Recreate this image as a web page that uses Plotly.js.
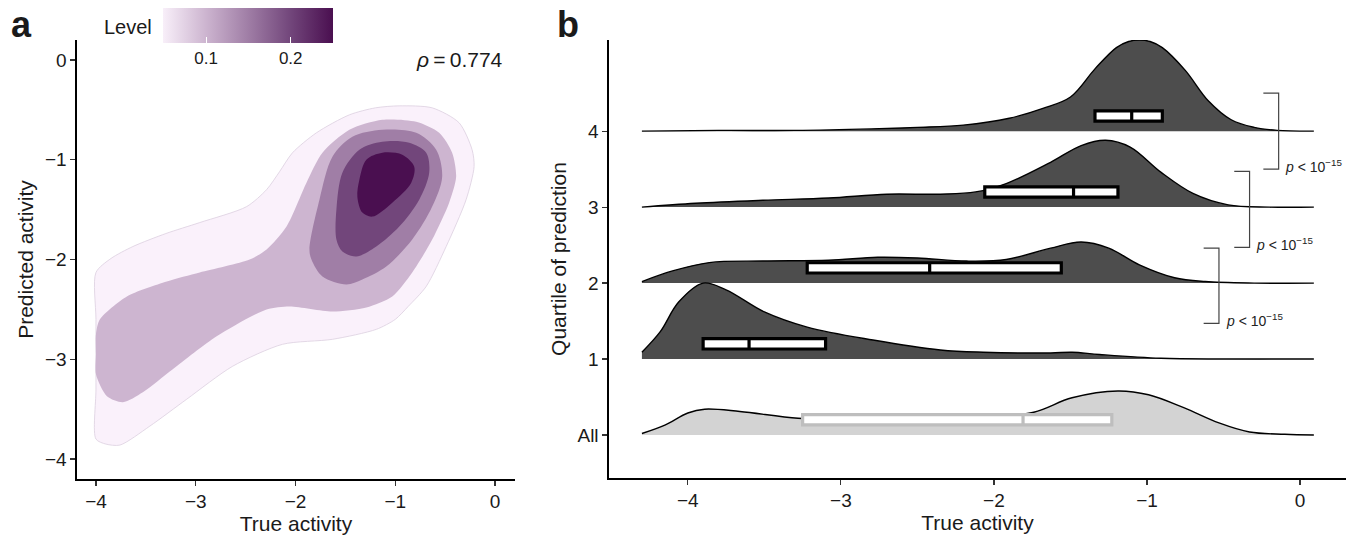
<!DOCTYPE html>
<html>
<head>
<meta charset="utf-8">
<script src="https://cdn.plot.ly/plotly-3.0.1.min.js"></script>
<style>html,body{margin:0;padding:0;background:#fff;}#chart{width:1356px;height:541px;}</style>
</head>
<body>
<div id="chart"></div>
<script>
// ---------- Panel a: 2D density contour polygons (data units) ----------
const levelValues = [0.05, 0.10, 0.15, 0.20, 0.25];
const contourL1x = [-4.0, -3.85, -3.63, -3.3, -2.96, -2.49, -2.29, -2.16, -2.03, -1.79, -1.46, -1.2, -0.96, -0.63, -0.36, -0.23, -0.21, -0.29, -0.49, -0.69, -0.87, -1.0, -1.19, -1.63, -2.13, -2.63, -3.09, -3.46, -3.76, -3.9, -4.0, -4.0, -4.0, -4.0];
const contourL1y = [-2.13, -1.99, -1.87, -1.74, -1.63, -1.47, -1.30, -1.12, -0.93, -0.73, -0.55, -0.48, -0.46, -0.48, -0.63, -0.90, -1.07, -1.40, -1.87, -2.27, -2.47, -2.60, -2.70, -2.80, -2.85, -3.07, -3.40, -3.67, -3.86, -3.85, -3.80, -3.3, -2.6, -2.13];
const contourL2x = [-4.0, -3.96, -3.69, -3.29, -2.96, -2.46, -2.29, -2.09, -1.89, -1.73, -1.46, -1.13, -0.79, -0.56, -0.43, -0.39, -0.46, -0.63, -0.83, -1.03, -1.29, -1.63, -2.06, -2.29, -2.79, -3.23, -3.53, -3.73, -3.89, -4.0, -4.0, -4.0];
const contourL2y = [-2.75, -2.60, -2.37, -2.22, -2.13, -2.0, -1.90, -1.67, -1.23, -0.93, -0.70, -0.60, -0.62, -0.73, -0.93, -1.17, -1.43, -1.80, -2.13, -2.37, -2.48, -2.52, -2.47, -2.50, -2.77, -3.10, -3.33, -3.43, -3.37, -3.15, -2.95, -2.75];
const contourL3x = [-1.86, -1.76, -1.63, -1.43, -1.13, -0.79, -0.59, -0.53, -0.63, -0.83, -1.09, -1.33, -1.49, -1.73, -1.84, -1.86];
const contourL3y = [-1.90, -1.40, -0.97, -0.77, -0.70, -0.73, -0.90, -1.17, -1.47, -1.80, -2.07, -2.20, -2.25, -2.17, -2.00, -1.90];
const contourL4x = [-1.59, -1.59, -1.53, -1.36, -1.13, -0.86, -0.69, -0.66, -0.76, -0.96, -1.19, -1.39, -1.53, -1.59];
const contourL4y = [-1.80, -1.50, -1.13, -0.90, -0.82, -0.83, -0.93, -1.13, -1.40, -1.67, -1.87, -1.97, -1.92, -1.80];
const contourL5x = [-1.36, -1.29, -1.13, -0.93, -0.81, -0.84, -1.03, -1.23, -1.33, -1.38, -1.36];
const contourL5y = [-1.20, -1.00, -0.93, -0.95, -1.07, -1.23, -1.43, -1.57, -1.53, -1.37, -1.20];
const rhoValue = "0.774";

// ---------- Panel b: ridgeline densities ----------
const groupLabels = ["All", "1", "2", "3", "4"];
const groupPos = [0, 1, 2, 3, 4];
const q4x = [-4.3, -3.8, -3.3, -2.8, -2.5, -2.2, -1.9, -1.68, -1.5, -1.34, -1.2, -1.12, -1.05, -0.98, -0.9, -0.75, -0.6, -0.45, -0.3, -0.15, 0.09];
const q4h = [0.0, 0.01, 0.01, 0.03, 0.05, 0.08, 0.17, 0.30, 0.45, 0.82, 1.10, 1.18, 1.2, 1.18, 1.10, 0.80, 0.40, 0.15, 0.05, 0.01, 0.0];
const q3x = [-4.3, -3.95, -3.51, -3.08, -2.70, -2.35, -2.12, -1.92, -1.63, -1.43, -1.27, -1.11, -0.91, -0.70, -0.47, -0.2, 0.09];
const q3h = [0.0, 0.05, 0.09, 0.12, 0.17, 0.17, 0.20, 0.31, 0.59, 0.81, 0.88, 0.79, 0.46, 0.18, 0.03, 0.0, 0.0];
const q2x = [-4.3, -4.10, -3.86, -3.51, -3.08, -2.76, -2.50, -2.18, -1.92, -1.63, -1.43, -1.25, -1.05, -0.82, -0.62, -0.3, 0.09];
const q2h = [0.02, 0.16, 0.27, 0.29, 0.30, 0.34, 0.33, 0.29, 0.31, 0.46, 0.54, 0.46, 0.24, 0.07, 0.02, 0.0, 0.0];
const q1x = [-4.3, -4.18, -4.06, -3.90, -3.75, -3.50, -3.22, -2.79, -2.35, -2.07, -1.63, -1.49, -1.31, -0.91, -0.5, 0.09];
const q1h = [0.09, 0.36, 0.75, 1.0, 0.91, 0.62, 0.42, 0.25, 0.12, 0.09, 0.08, 0.09, 0.06, 0.01, 0.0, 0.0];
const allx = [-4.3, -4.15, -4.0, -3.89, -3.66, -3.28, -2.9, -2.5, -2.1, -1.74, -1.49, -1.19, -0.99, -0.76, -0.53, -0.33, -0.1, 0.09];
const allh = [0.02, 0.13, 0.29, 0.34, 0.31, 0.22, 0.19, 0.18, 0.21, 0.30, 0.49, 0.58, 0.53, 0.36, 0.16, 0.04, 0.01, 0.0];

// box summaries (q1, median, q3) per group, order: All, 1, 2, 3, 4
const boxQ1 = [-3.25, -3.90, -3.22, -2.06, -1.34];
const boxMed = [-1.81, -3.60, -2.42, -1.48, -1.10];
const boxQ3 = [-1.23, -3.10, -1.56, -1.19, -0.90];
const boxOffset = 0.2;

// significance brackets between adjacent quartiles
const bracketTop = [4.5, 3.47, 2.46];
const bracketBottom = [3.5, 2.47, 1.47];
const bracketX = [-0.14, -0.33, -0.53];
const bracketText = "<i>p</i> &lt; 10<sup>\u221215</sup>";

// ---------- styles ----------
const FONT = "Liberation Sans, Arial, Helvetica, sans-serif";
const levelScale = [[0, '#F8EFF9'], [0.25, '#CDB5D0'], [0.5, '#A07EA6'], [0.75, '#72467B'], [1, '#4A0F50']];
const levelFill = ['#FAF1FB', '#CDB5D0', '#A07EA6', '#72467B', '#4A0F50'];
const xRangeB = [-4.515, 0.3];
const yRangeB = [-0.566, 5.2];

const traces = [];
const contours = [[contourL1x, contourL1y], [contourL2x, contourL2y], [contourL3x, contourL3y], [contourL4x, contourL4y], [contourL5x, contourL5y]];
contours.forEach((c, i) => {
  traces.push({
    type: 'scatter', mode: 'lines', x: c[0], y: c[1], xaxis: 'x', yaxis: 'y',
    fill: 'toself', fillcolor: levelFill[i],
    line: {shape: 'spline', smoothing: i < 2 ? 0.75 : 0.9, width: i === 0 ? 0.8 : 0, color: i === 0 ? '#DCCFE0' : levelFill[i]},
    hoverinfo: 'skip', showlegend: false
  });
});
// colorbar carrier (points outside the visible range)
traces.push({
  type: 'scatter', mode: 'markers', x: levelValues.map(() => -10), y: levelValues.map(() => -10),
  xaxis: 'x', yaxis: 'y', hoverinfo: 'skip', showlegend: false,
  marker: {
    size: 2, color: levelValues, colorscale: levelScale, cmin: 0.049, cmax: 0.25, showscale: true,
    colorbar: {
      orientation: 'h', x: 248 / 1356, xanchor: 'center', y: 1 - 8 / 541, yanchor: 'top',
      len: 170, lenmode: 'pixels', thickness: 35, thicknessmode: 'pixels',
      xpad: 0, ypad: 0, outlinewidth: 0,
      tickvals: [0.1, 0.2], ticktext: ['0.1', '0.2'], ticks: 'inside', ticklen: 6, tickcolor: '#ffffff', tickwidth: 1.2,
      tickfont: {family: FONT, size: 17, color: '#1a1a1a'}, title: {text: ''}
    }
  }
});

// ridges: top to bottom so lower ridges overlay upper ones
const ridges = [[q4x, q4h, 4], [q3x, q3h, 3], [q2x, q2h, 2], [q1x, q1h, 1], [allx, allh, 0]];
ridges.forEach(r => {
  const base = r[2];
  const fillc = base === 0 ? '#D3D3D3' : '#4D4D4D';
  traces.push({type: 'scatter', mode: 'lines', x: r[0], y: r[0].map(() => base), xaxis: 'x2', yaxis: 'y2',
    line: {width: 0, color: fillc}, hoverinfo: 'skip', showlegend: false});
  traces.push({type: 'scatter', mode: 'lines', x: r[0], y: r[1].map(h => base + h), xaxis: 'x2', yaxis: 'y2',
    fill: 'tonexty', fillcolor: fillc, line: {shape: 'spline', smoothing: 1, width: 1.4, color: '#000'},
    hoverinfo: 'skip', showlegend: false});
});

// brackets
bracketX.forEach((bx, i) => {
  traces.push({type: 'scatter', mode: 'lines', x: [bx - 0.1, bx, bx, bx - 0.1], y: [bracketTop[i], bracketTop[i], bracketBottom[i], bracketBottom[i]],
    xaxis: 'x2', yaxis: 'y2', line: {color: '#444', width: 1.2}, hoverinfo: 'skip', showlegend: false});
});

// boxes on an overlaid subplot so they sit above the ridges
groupPos.forEach((g, i) => {
  traces.push({
    type: 'box', orientation: 'h', y: [g + boxOffset], q1: [boxQ1[i]], median: [boxMed[i]], q3: [boxQ3[i]],
    lowerfence: [boxQ1[i]], upperfence: [boxQ3[i]], boxpoints: false, width: 0.135, whiskerwidth: 0,
    fillcolor: '#ffffff', line: {color: g === 0 ? '#BEBEBE' : '#000000', width: 3.2},
    xaxis: 'x3', yaxis: 'y3', hoverinfo: 'skip', showlegend: false
  });
});

const annotations = [
  {text: '<b>a</b>', x: 9 / 1356, y: 1 - 24 / 541, xref: 'paper', yref: 'paper', xanchor: 'left', yanchor: 'middle', showarrow: false, font: {family: FONT, size: 36, color: '#1a1a1a'}},
  {text: '<b>b</b>', x: 555 / 1356, y: 1 - 24 / 541, xref: 'paper', yref: 'paper', xanchor: 'left', yanchor: 'middle', showarrow: false, font: {family: FONT, size: 36, color: '#1a1a1a'}},
  {text: 'Level', x: 154 / 1356, y: 1 - 27 / 541, xref: 'paper', yref: 'paper', xanchor: 'right', yanchor: 'middle', showarrow: false, font: {family: FONT, size: 20, color: '#1a1a1a'}},
  {text: '<i>\u03C1</i>\u2009=\u2009' + rhoValue, x: 0.1, y: 0, xref: 'x', yref: 'y', xanchor: 'right', yanchor: 'middle', showarrow: false, font: {family: FONT, size: 21, color: '#1a1a1a'}}
];
bracketX.forEach((bx, i) => {
  annotations.push({text: bracketText, x: bx + 0.03, y: bracketBottom[i] + 0.04, xref: 'x2', yref: 'y2', xanchor: 'left', yanchor: 'middle',
    showarrow: false, font: {family: FONT, size: 14, color: '#222'}});
});

const axisCommon = {
  showgrid: false, zeroline: false, showline: true, linecolor: '#000', linewidth: 1.6,
  ticks: 'outside', ticklen: 5, tickwidth: 1.2, tickcolor: '#333',
  tickfont: {family: FONT, size: 19, color: '#1a1a1a'}, fixedrange: true
};
const titleFont = {family: FONT, size: 21, color: '#1a1a1a'};

const layout = {
  width: 1356, height: 541, margin: {l: 0, r: 0, t: 0, b: 0},
  paper_bgcolor: '#fff', plot_bgcolor: '#fff', showlegend: false,
  font: {family: FONT, color: '#1a1a1a'},
  xaxis: Object.assign({}, axisCommon, {domain: [77 / 1356, 515 / 1356], range: [-4.19, 0.2], tickvals: [-4, -3, -2, -1, 0],
    title: {text: 'True activity', font: titleFont, standoff: 3}, anchor: 'y'}),
  yaxis: Object.assign({}, axisCommon, {domain: [62 / 541, 501 / 541], range: [-4.2, 0.2], tickvals: [-4, -3, -2, -1, 0],
    title: {text: 'Predicted activity', font: titleFont, standoff: 5}, anchor: 'x'}),
  xaxis2: Object.assign({}, axisCommon, {domain: [609 / 1356, 1346 / 1356], range: xRangeB, tickvals: [-4, -3, -2, -1, 0],
    title: {text: 'True activity', font: titleFont, standoff: 3}, anchor: 'y2'}),
  yaxis2: Object.assign({}, axisCommon, {domain: [63 / 541, 501 / 541], range: yRangeB, tickvals: groupPos, ticktext: groupLabels,
    title: {text: 'Quartile of prediction', font: titleFont, standoff: 5}, anchor: 'x2'}),
  xaxis3: {overlaying: 'x2', range: xRangeB, visible: false, showgrid: false, zeroline: false, anchor: 'y3', fixedrange: true},
  yaxis3: {overlaying: 'y2', range: yRangeB, visible: false, showgrid: false, zeroline: false, anchor: 'x3', fixedrange: true},
  annotations: annotations
};

Plotly.newPlot('chart', traces, layout, {displayModeBar: false, staticPlot: true});
</script>
</body>
</html>
